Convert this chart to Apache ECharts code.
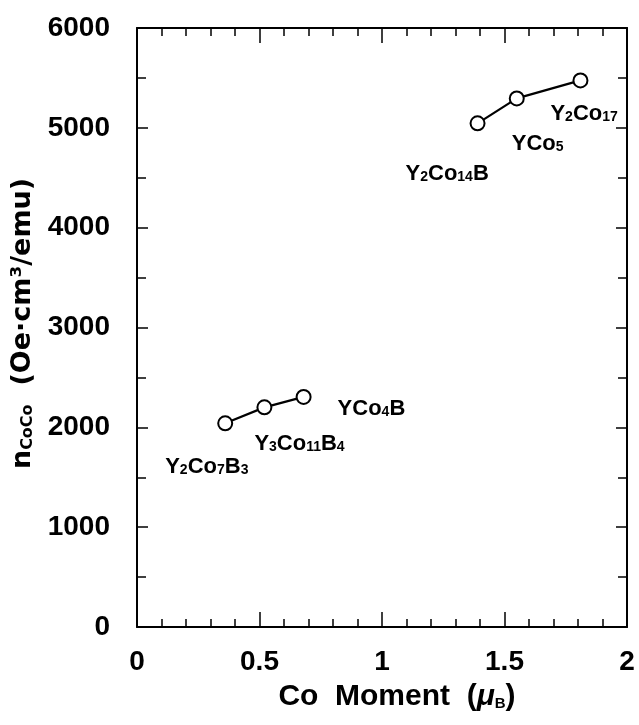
<!DOCTYPE html>
<html>
<head>
<meta charset="utf-8">
<script src="https://cdn.jsdelivr.net/npm/echarts@6/dist/echarts.min.js"></script>
<style>
html,body{margin:0;padding:0;background:#fff;}
#chart{width:639px;height:725px;}
</style>
</head>
<body>
<div id="chart"></div>
<script>
// Co-B compounds group
const borideMoment = [0.36, 0.52, 0.68];
const borideN = [2040, 2200, 2305];
const borideNames = ['Y2Co7B3', 'Y3Co11B4', 'YCo4B'];
// Co-rich group
const richMoment = [1.39, 1.55, 1.81];
const richN = [5045, 5295, 5475];
const richNames = ['Y2Co14B', 'YCo5', 'Y2Co17'];

const xTicks = ['0', '0.5', '1', '1.5', '2'];
const yTicks = ['0', '1000', '2000', '3000', '4000', '5000', '6000'];

// label offsets (pixels) relative to each point
const borideOffsets = [[-60, 44], [-10, 37], [34, 12]];
const richOffsets = [[-72, 51], [-5, 46], [-30, 34]];

function richFormula(name) {
  return name.replace(/(\d+)|([A-Za-z]+)/g, function (m, d, l) {
    return d ? '{s|' + d + '}' : '{b|' + l + '}';
  });
}

const labelRich = {
  b: {fontFamily: 'Liberation Sans', fontWeight: 'bold', fontSize: 22, color: '#000', lineHeight: 22, verticalAlign: 'bottom'},
  s: {fontFamily: 'Liberation Sans', fontWeight: 'bold', fontSize: 14, color: '#000', lineHeight: 14, verticalAlign: 'bottom', padding: [0, 0, 1, 0]}
};

function makeData(xs, ys, names, offsets) {
  return xs.map(function (x, i) {
    return {
      value: [x, ys[i]],
      label: {
        show: true,
        position: 'inside',
        align: 'left',
        verticalAlign: 'middle',
        offset: offsets[i],
        formatter: richFormula(names[i]),
        rich: labelRich
      }
    };
  });
}

const axisLineStyle = {show: true, onZero: false, lineStyle: {color: '#000', width: 2}};

function xAx(pos, showLabels) {
  return {
    type: 'value', position: pos, min: 0, max: 2, interval: 0.5,
    axisLine: axisLineStyle,
    axisTick: {show: true, inside: true, length: 15, lineStyle: {color: '#000', width: 1.5}},
    minorTick: {show: true, splitNumber: 5, length: 8, lineStyle: {color: '#000', width: 1.5}},
    splitLine: {show: false}, minorSplitLine: {show: false},
    axisLabel: {show: showLabels, margin: 21, fontFamily: 'Liberation Sans', fontWeight: 'bold', fontSize: 28, color: '#000',
      formatter: function (v) { return xTicks[Math.round(v / 0.5)]; }}
  };
}
function yAx(pos, showLabels) {
  return {
    type: 'value', position: pos, min: 0, max: 6000, interval: 1000,
    axisLine: axisLineStyle,
    axisTick: {show: true, inside: true, length: 11, lineStyle: {color: '#000', width: 1.5}},
    minorTick: {show: true, splitNumber: 2, length: 9, lineStyle: {color: '#000', width: 1.5}},
    splitLine: {show: false}, minorSplitLine: {show: false},
    axisLabel: {show: showLabels, margin: 27, fontFamily: 'Liberation Sans', fontWeight: 'bold', fontSize: 28, color: '#000',
      formatter: function (v) { return yTicks[Math.round(v / 1000)]; }}
  };
}

const xBottom = xAx('bottom', true);
xBottom.name = '{b|Co  Moment  (}{mu|μ}{s|B}{b|)}';
xBottom.nameLocation = 'middle';
xBottom.nameGap = 55;
xBottom.nameTextStyle = {
  padding: [0, 0, 0, 30],
  rich: {
    b: {fontFamily: 'Liberation Sans', fontWeight: 'bold', fontSize: 30, color: '#000', lineHeight: 30, verticalAlign: 'bottom'},
    mu: {fontFamily: 'Liberation Sans', fontWeight: 'bold', fontStyle: 'italic', fontSize: 30, color: '#000', lineHeight: 30, verticalAlign: 'bottom'},
    s: {fontFamily: 'Liberation Sans', fontWeight: 'bold', fontSize: 15, color: '#000', lineHeight: 15, verticalAlign: 'bottom', padding: [0, 0, 1, 0]}
  }
};

const yLeft = yAx('left', true);
yLeft.name = '{n|n}{s|CoCo}{b|  (Oe·cm³/emu)}';
yLeft.nameLocation = 'middle';
yLeft.nameRotate = 90;
yLeft.nameGap = 81;
yLeft.nameTextStyle = {
  padding: [0, 0, 0, 8],
  rich: {
    n: {fontFamily: 'DejaVu Sans', fontWeight: 'bold', fontSize: 27, color: '#000', lineHeight: 27, verticalAlign: 'bottom'},
    b: {fontFamily: 'DejaVu Sans', fontWeight: 'bold', fontSize: 27, color: '#000', lineHeight: 27, verticalAlign: 'bottom'},
    s: {fontFamily: 'DejaVu Sans', fontWeight: 'bold', fontSize: 16, color: '#000', lineHeight: 16, verticalAlign: 'bottom', padding: [0, 0, 1, 0]}
  }
};

const chart = echarts.init(document.getElementById('chart'), null, {renderer: 'canvas'});
chart.setOption({
  backgroundColor: '#fff',
  animation: false,
  grid: {left: 137, right: 12, top: 28, bottom: 98, containLabel: false},
  xAxis: [xBottom, xAx('top', false)],
  yAxis: [yLeft, yAx('right', false)],
  series: [
    {
      type: 'line', xAxisIndex: 0, yAxisIndex: 0,
      data: makeData(borideMoment, borideN, borideNames, borideOffsets),
      symbol: 'emptyCircle', symbolSize: 14,
      lineStyle: {color: '#000', width: 2.2},
      itemStyle: {color: '#000', borderColor: '#000', borderWidth: 2},
      z: 3
    },
    {
      type: 'line', xAxisIndex: 0, yAxisIndex: 0,
      data: makeData(richMoment, richN, richNames, richOffsets),
      symbol: 'emptyCircle', symbolSize: 14,
      lineStyle: {color: '#000', width: 2.2},
      itemStyle: {color: '#000', borderColor: '#000', borderWidth: 2},
      z: 3
    }
  ]
});
</script>
</body>
</html>
